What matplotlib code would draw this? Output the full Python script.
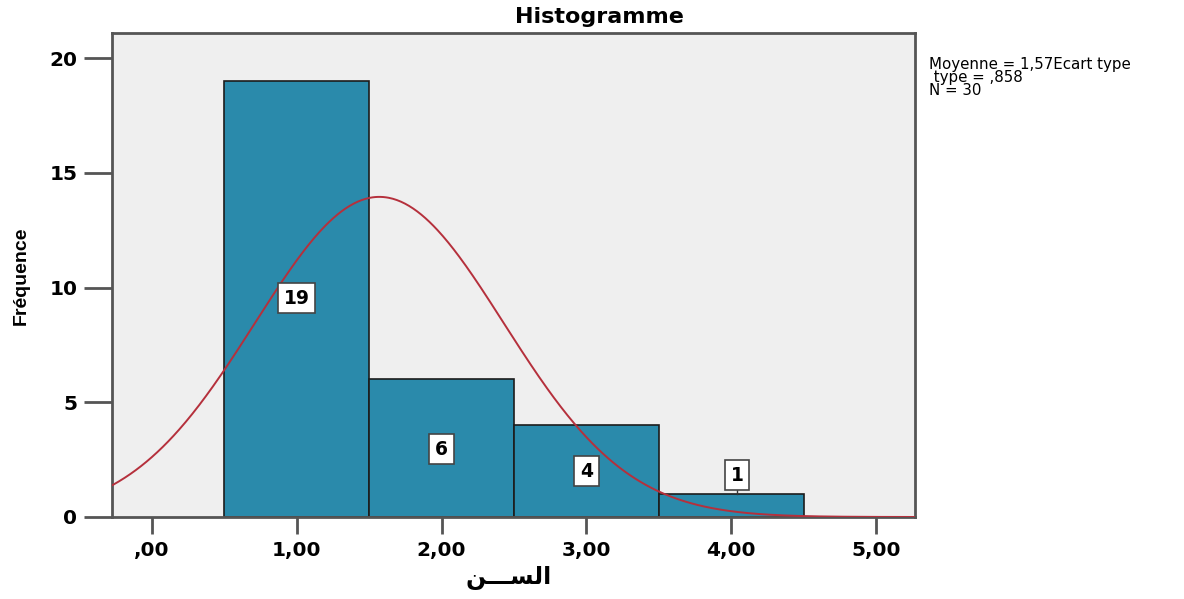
import numpy as np
import matplotlib
matplotlib.use("Agg")
import matplotlib.pyplot as plt

# Data
bin_edges = [0.5, 1.5, 2.5, 3.5, 4.5]
counts = [19, 6, 4, 1]
label_y = [9.54, 2.96, 2.0, 1.83]
mean_val = 1.57
std_val = 0.858
n_obs = 30
xticks = [0, 1, 2, 3, 4, 5]
xtick_labels = [",00", "1,00", "2,00", "3,00", "4,00", "5,00"]
yticks = [0, 5, 10, 15, 20]

plt.rcParams['font.family'] = ['DejaVu Sans']

fig = plt.figure(figsize=(11.84, 5.99), dpi=100)
ax = fig.add_axes([112/1184, 1 - 517/599, 803/1184, 484/599])
ax.set_facecolor('#efefef')

lefts = bin_edges[:-1]
widths = np.diff(bin_edges)
ax.bar(lefts, counts, width=widths, align='edge', color='#2a8aab',
       edgecolor='#1c1c1c', linewidth=1.2, zorder=2)

xs = np.linspace(-0.3, 5.3, 600)
pdf = n_obs * 1.0 / (std_val * np.sqrt(2 * np.pi)) * np.exp(-0.5 * ((xs - mean_val) / std_val) ** 2)
ax.plot(xs, pdf, color='#b5303c', linewidth=1.4, zorder=3)

for l, w, c, ly in zip(lefts, widths, counts, label_y):
    cx = l + w / 2
    if c < ly:
        cx += 0.04
        ax.plot([cx, cx], [c, ly - 0.5], color='#333333', lw=1, zorder=3)
    ax.text(cx, ly, str(c), ha='center', va='center', fontsize=13.5, fontweight='bold',
            zorder=4,
            bbox=dict(boxstyle='square,pad=0.3', facecolor='white', edgecolor='#444444', linewidth=1.2))

ax.set_xlim(-0.276, 5.269)
ax.set_ylim(0, 21.09)
ax.set_xticks(xticks)
ax.set_xticklabels(xtick_labels)
ax.set_yticks(yticks)
for lab in ax.get_xticklabels() + ax.get_yticklabels():
    lab.set_fontsize(14.5)
    lab.set_fontweight('bold')
ax.tick_params(axis='y', length=20, width=2, color='#555555', pad=5)
ax.tick_params(axis='x', length=12, width=2, color='#555555', pad=5)
for s in ax.spines.values():
    s.set_color('#555555')
    s.set_linewidth(2)

fig.text(0.506, 0.972, "Histogramme", ha='center', va='center', fontsize=16, fontweight='bold')
fig.text(0.43, 0.035, "\uFEE6\u0640\u0640\u0640\uFEB4\uFEDF\uFE8D", ha='center', va='center',
         fontsize=17, fontweight='bold', family=['DejaVu Sans'])
fig.text(0.018, 0.54, "Fréquence", ha='center', va='center', rotation=90, fontsize=14,
         fontweight='bold', family=['Liberation Sans'])
fig.text(0.785, 0.905, "Moyenne = 1,57Ecart type\n type = ,858\nN = 30", ha='left', va='top',
         fontsize=10.8, linespacing=0.85)

fig.savefig("out.png", dpi=100)
